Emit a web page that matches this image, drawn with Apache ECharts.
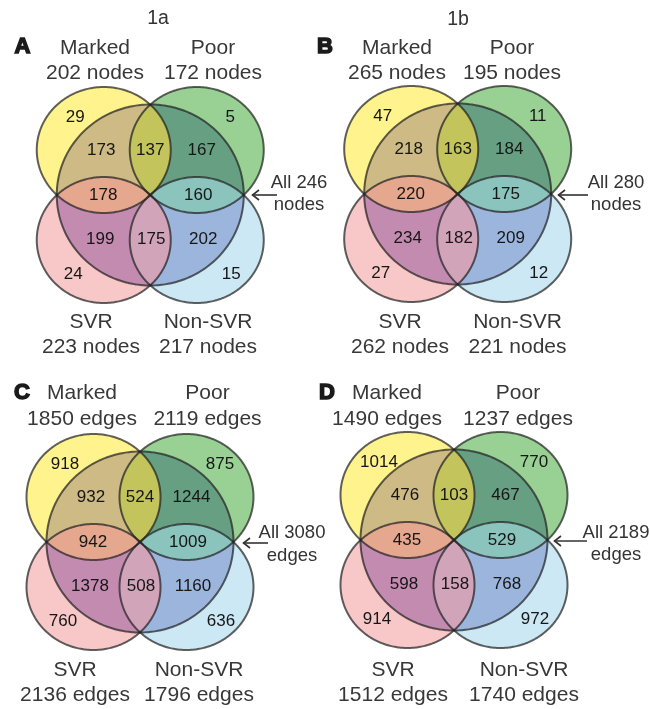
<!DOCTYPE html>
<html>
<head>
<meta charset="utf-8">
<script src="https://cdn.jsdelivr.net/npm/echarts@6/dist/echarts.min.js"></script>
<style>
  html, body { margin: 0; padding: 0; background: #ffffff; }
  #chart { width: 650px; height: 709px; }
</style>
</head>
<body>
<div id="chart"></div>
<script>
// Region counts, listed row by row across each diagram (top-left to bottom-right)
const nodes1a = [29, 5, 173, 137, 167, 178, 160, 199, 175, 202, 24, 15];
const nodes1b = [47, 11, 218, 163, 184, 220, 175, 234, 182, 209, 27, 12];
const edges1a = [918, 875, 932, 524, 1244, 942, 1009, 1378, 508, 1160, 760, 636];
const edges1b = [1014, 770, 476, 103, 467, 435, 529, 598, 158, 768, 914, 972];

// Set sizes: Marked, Poor, SVR, Non-SVR, then All
const setNames = ['Marked', 'Poor', 'SVR', 'Non-SVR'];
const nodeTotals1a = [202, 172, 223, 217, 246];
const nodeTotals1b = [265, 195, 262, 221, 280];
const edgeTotals1a = [1850, 2119, 2136, 1796, 3080];
const edgeTotals1b = [1490, 1237, 1512, 1740, 2189];

// ---- geometry of one diagram, relative to its centre (axis units) ----
const SHAPES = {
  Y: { c: [-46.5, -45], rx: 67, ry: 63 },   // Marked
  G: { c: [46.5, -45], rx: 67, ry: 63 },    // Poor
  P: { c: [-46.5, 45], rx: 67, ry: 63 },    // SVR
  B: { c: [46.5, 45], rx: 67, ry: 63 },     // Non-SVR
  O: { c: [0, 0], rx: 93.5, ry: 90.5 }      // All
};
const OUTLINE_ORDER = ['Y', 'G', 'P', 'B', 'O'];

// Regions in the same order as the count arrays
const REGIONS = [
  { shapes: ['Y'],      layer: 0, color: '#FFF38D', at: [-75, -78] },
  { shapes: ['G'],      layer: 0, color: '#99D195', at: [80, -78] },
  { shapes: ['Y', 'O'], layer: 1, color: '#CDBA84', at: [-49, -44.5] },
  { shapes: ['Y', 'G'], layer: 2, color: '#C3C45B', at: [0, -44.5] },
  { shapes: ['G', 'O'], layer: 1, color: '#669F82', at: [51.5, -44.5] },
  { shapes: ['Y', 'P'], layer: 2, color: '#E5A78D', at: [-47, 0] },
  { shapes: ['G', 'B'], layer: 2, color: '#8BC3BD', at: [48, 0.5] },
  { shapes: ['P', 'O'], layer: 1, color: '#C48BB1', at: [-50, 44] },
  { shapes: ['P', 'B'], layer: 2, color: '#D2A4B9', at: [1, 44] },
  { shapes: ['B', 'O'], layer: 1, color: '#9BB5DD', at: [53, 44] },
  { shapes: ['P'],      layer: 0, color: '#F8C8C9', at: [-77, 79] },
  { shapes: ['B'],      layer: 0, color: '#CBE8F4', at: [81, 79] }
];

const PANELS = [
  { letter: 'A', title: '1a', unit: 'nodes', counts: nodes1a, totals: nodeTotals1a,
    center: [150.25, 195], letterAt: [22.5, 47], titleAt: [158, 19],
    nameX: [95, 213, 91, 208], topY: [48, 73], botY: [322, 347],
    allAt: [299, 183, 205], arrow: [252, 277, 195] },
  { letter: 'B', title: '1b', unit: 'nodes', counts: nodes1b, totals: nodeTotals1b,
    center: [457.7, 194], letterAt: [325, 47], titleAt: [458, 20],
    nameX: [397, 512, 400, 517.5], topY: [48, 73], botY: [322, 347],
    allAt: [616, 183, 205], arrow: [558, 588, 195] },
  { letter: 'C', title: '', unit: 'edges', counts: edges1a, totals: edgeTotals1a,
    center: [140, 542], letterAt: [22, 393], titleAt: null,
    nameX: [82, 207.5, 75, 199], topY: [393, 419], botY: [670, 695],
    allAt: [292, 533, 556], arrow: [243, 268, 543] },
  { letter: 'D', title: '', unit: 'edges', counts: edges1b, totals: edgeTotals1b,
    center: [454, 540], letterAt: [327, 393], titleAt: null,
    nameX: [387, 518, 393, 524], topY: [393, 419], botY: [670, 695],
    allAt: [616, 533, 555], arrow: [554, 587, 541] }
];

const FONT = '"Liberation Sans", Arial, Helvetica, sans-serif';

// ---- polygon helpers ----
function ellipsePoints(key, center, n) {
  const s = SHAPES[key];
  const pts = [];
  for (let i = 0; i < n; i++) {
    const t = (2 * Math.PI * i) / n;
    pts.push([center[0] + s.c[0] + s.rx * Math.cos(t), center[1] + s.c[1] + s.ry * Math.sin(t)]);
  }
  return pts;
}
function cross(a, b, p) {
  return (b[0] - a[0]) * (p[1] - a[1]) - (b[1] - a[1]) * (p[0] - a[0]);
}
// Sutherland–Hodgman clipping against a convex polygon
function clipPolygon(subject, clipper) {
  let output = subject;
  for (let i = 0; i < clipper.length && output.length; i++) {
    const a = clipper[i], b = clipper[(i + 1) % clipper.length];
    const input = output;
    output = [];
    for (let j = 0; j < input.length; j++) {
      const e = input[j], s = input[(j + input.length - 1) % input.length];
      const de = cross(a, b, e), ds = cross(a, b, s);
      if (de >= 0) {
        if (ds < 0) {
          const t = ds / (ds - de);
          output.push([s[0] + t * (e[0] - s[0]), s[1] + t * (e[1] - s[1])]);
        }
        output.push(e);
      } else if (ds >= 0) {
        const t = ds / (ds - de);
        output.push([s[0] + t * (e[0] - s[0]), s[1] + t * (e[1] - s[1])]);
      }
    }
  }
  return output;
}

function regionRenderer(panel) {
  return function (params, api) {
    const idx = api.value(0);
    const reg = REGIONS[idx];
    let poly = ellipsePoints(reg.shapes[0], panel.center, 360);
    for (let k = 1; k < reg.shapes.length; k++) {
      poly = clipPolygon(poly, ellipsePoints(reg.shapes[k], panel.center, 360));
    }
    const pts = poly.map(p => api.coord(p));
    const lab = api.coord([panel.center[0] + reg.at[0], panel.center[1] + reg.at[1]]);
    return {
      type: 'group',
      children: [
        { type: 'polygon', z2: reg.layer + 1, shape: { points: pts }, style: { fill: reg.color } },
        { type: 'text', z2: 20, x: lab[0], y: lab[1],
          style: { text: String(api.value(1)), fill: '#161616', fontSize: 17, fontFamily: FONT,
                   align: 'center', verticalAlign: 'middle' } }
      ]
    };
  };
}

function outlineRenderer(panel) {
  return function (params, api) {
    const key = OUTLINE_ORDER[api.value(0)];
    const pts = ellipsePoints(key, panel.center, 360).map(p => api.coord(p));
    return {
      type: 'polygon', shape: { points: pts },
      style: { fill: 'none', stroke: 'rgba(35,35,35,0.72)', lineWidth: 2 }
    };
  };
}

function textEl(x, y, text, size, color, extra) {
  return { type: 'text', x: x, y: y,
    style: Object.assign({ text: text, fill: color, fontSize: size, fontFamily: FONT,
      align: 'center', verticalAlign: 'middle' }, extra || {}) };
}

function labelRenderer(panel) {
  return function (params, api) {
    const i = api.value(0);
    const total = api.value(1);
    const children = [];
    if (i < 4) {
      const rowY = i < 2 ? panel.topY : panel.botY;
      const p1 = api.coord([panel.nameX[i], rowY[0]]);
      const p2 = api.coord([panel.nameX[i], rowY[1]]);
      children.push(textEl(p1[0], p1[1], setNames[i], 21, '#383838'));
      children.push(textEl(p2[0], p2[1], total + ' ' + panel.unit, 21, '#383838'));
    } else {
      const a1 = api.coord([panel.allAt[0], panel.allAt[1]]);
      const a2 = api.coord([panel.allAt[0], panel.allAt[2]]);
      children.push(textEl(a1[0], a1[1], 'All ' + total, 18.5, '#333333'));
      children.push(textEl(a2[0], a2[1], panel.unit, 18.5, '#333333'));
      const tip = api.coord([panel.arrow[0], panel.arrow[2]]);
      const tail = api.coord([panel.arrow[1], panel.arrow[2]]);
      children.push({ type: 'line', shape: { x1: tip[0], y1: tip[1], x2: tail[0], y2: tail[1] },
        style: { stroke: '#333333', lineWidth: 1.6 } });
      children.push({ type: 'polyline',
        shape: { points: [[tip[0] + 7, tip[1] - 5], [tip[0] + 0.5, tip[1]], [tip[0] + 7, tip[1] + 5]] },
        style: { stroke: '#333333', lineWidth: 1.6, fill: 'none' } });
    }
    if (i === 0) {
      const l = api.coord(panel.letterAt);
      children.push(textEl(l[0], l[1], panel.letter, 22, '#1a1a1a',
        { fontWeight: 'bold', stroke: '#1a1a1a', lineWidth: 1.5 }));
      if (panel.titleAt) {
        const t = api.coord(panel.titleAt);
        children.push(textEl(t[0], t[1], panel.title, 19.5, '#333333'));
      }
    }
    return { type: 'group', children: children };
  };
}

const series = [];
PANELS.forEach(panel => {
  series.push({
    type: 'custom', name: panel.letter + ' regions', z: 2, clip: false,
    renderItem: regionRenderer(panel),
    data: panel.counts.map((v, i) => [i, v])
  });
  series.push({
    type: 'custom', name: panel.letter + ' outlines', z: 3, clip: false,
    renderItem: outlineRenderer(panel),
    data: OUTLINE_ORDER.map((k, i) => [i, 0])
  });
  series.push({
    type: 'custom', name: panel.letter + ' labels', z: 4, clip: false,
    renderItem: labelRenderer(panel),
    data: panel.totals.map((v, i) => [i, v])
  });
});

const chart = echarts.init(document.getElementById('chart'), null, { renderer: 'canvas' });
chart.setOption({
  backgroundColor: '#ffffff',
  animation: false,
  grid: { left: 0, right: 0, top: 0, bottom: 0 },
  xAxis: { type: 'value', min: 0, max: 650, show: false },
  yAxis: { type: 'value', min: 0, max: 709, inverse: true, show: false },
  series: series
});
</script>
</body>
</html>
